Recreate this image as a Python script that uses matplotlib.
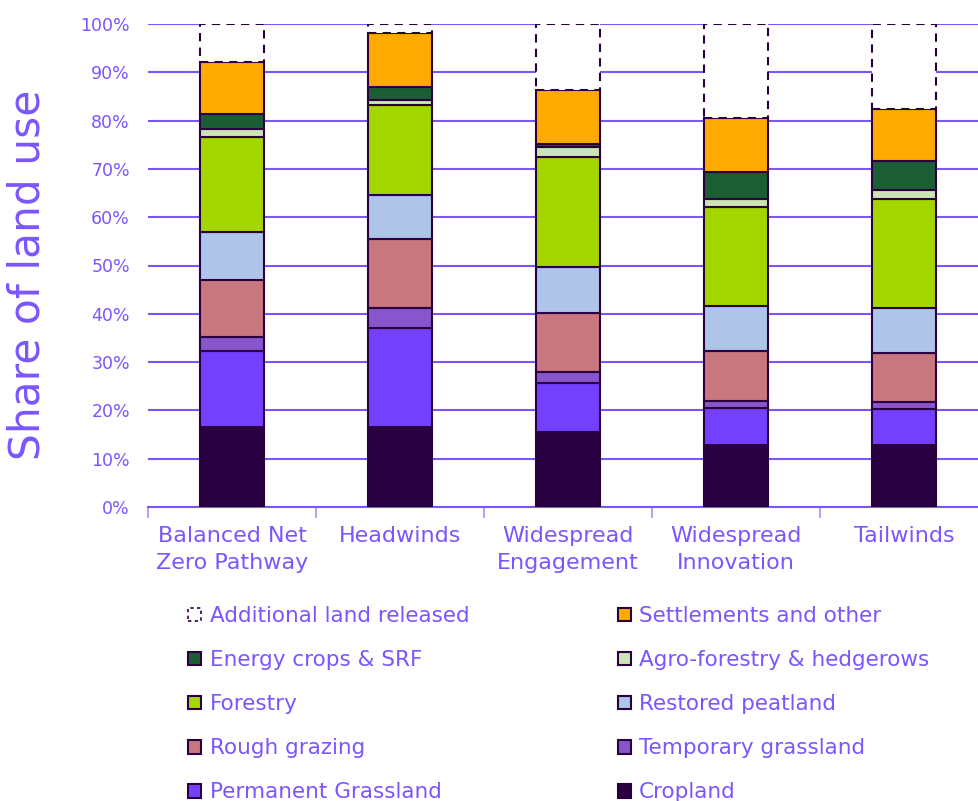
import matplotlib.pyplot as plt
import numpy as np
from matplotlib.patches import Patch

# scenarios
scenarios = ['Balanced Net\nZero Pathway', 'Headwinds', 'Widespread\nEngagement',
             'Widespread\nInnovation', 'Tailwinds']

# land use shares (%), bottom to top
cropland = [16.6, 16.6, 15.6, 12.8, 12.8]
perm_grass = [15.6, 20.5, 10.1, 7.6, 7.5]
temp_grass = [3.1, 4.2, 2.3, 1.6, 1.5]
rough_grazing = [11.8, 14.1, 12.2, 10.2, 10.0]
peatland = [9.9, 9.2, 9.5, 9.5, 9.5]
forestry = [19.7, 18.6, 22.8, 20.5, 22.5]
agro = [1.5, 1.1, 2.0, 1.6, 1.8]
energy = [3.1, 2.7, 0.7, 5.6, 6.1]
settlements = [10.8, 11.2, 11.1, 11.1, 10.7]
additional = [7.9, 1.8, 13.7, 19.5, 17.6]

series = [
    ('Cropland', cropland, '#2a0040'),
    ('Permanent Grassland', perm_grass, '#7340ff'),
    ('Temporary grassland', temp_grass, '#8855cc'),
    ('Rough grazing', rough_grazing, '#c9777f'),
    ('Restored peatland', peatland, '#aec5e8'),
    ('Forestry', forestry, '#a4d600'),
    ('Agro-forestry & hedgerows', agro, '#cce5b5'),
    ('Energy crops & SRF', energy, '#1c5e34'),
    ('Settlements and other', settlements, '#ffaa00'),
]

purple = '#7b55ff'
edge = '#2a0040'
plt.rcParams['font.family'] = ['DejaVu Sans']

fig = plt.figure(figsize=(9.79, 8.01), dpi=100)
ax = fig.add_axes([148 / 979, 1 - 507 / 801, 840 / 979, 483 / 801])

x = np.arange(len(scenarios))
w = 0.38
bottom = np.zeros(len(scenarios))
handles = {}
for name, vals, col in series:
    ax.bar(x, vals, w, bottom=bottom, color=col, edgecolor=edge, linewidth=1.5, zorder=3)
    handles[name] = Patch(facecolor=col, edgecolor=edge, linewidth=1.5)
    bottom += np.array(vals)
ax.bar(x, additional, w, bottom=bottom, color='white', edgecolor=edge,
       linewidth=1.5, linestyle=(0, (4, 3)), zorder=3)
handles['Additional land released'] = Patch(facecolor='white', edgecolor=edge,
                                            linewidth=1.2, linestyle=(0, (2, 2)))

ax.set_xlim(-0.5, len(scenarios) - 0.5)
ax.set_ylim(0, 100)
ax.set_yticks(np.arange(0, 101, 10))
ax.set_yticklabels([f'{v}%' for v in range(0, 101, 10)])
ax.yaxis.grid(True, color=purple, linewidth=1.5, zorder=0)
ax.set_xticks(x)
ax.set_xticklabels(scenarios, linespacing=1.4)
ax.set_xticks(np.arange(-0.5, len(scenarios)), minor=True)
ax.tick_params(axis='x', which='major', length=0, pad=14, labelsize=16, labelcolor=purple)
ax.tick_params(axis='x', which='minor', length=8, width=1.2, color='#a88cff')
ax.tick_params(axis='y', length=0, pad=13, labelsize=12.5, labelcolor=purple)
for s in ['left', 'right', 'top']:
    ax.spines[s].set_visible(False)
ax.spines['bottom'].set_color(purple)
ax.spines['bottom'].set_linewidth(1.5)
ax.set_ylabel('Share of land use', fontsize=30.5, color=purple)
ax.yaxis.set_label_coords(-0.118, 0.48)

order = ['Additional land released', 'Energy crops & SRF', 'Forestry', 'Rough grazing',
         'Permanent Grassland', 'Settlements and other', 'Agro-forestry & hedgerows',
         'Restored peatland', 'Temporary grassland', 'Cropland']
leg = fig.legend([handles[n] for n in order], order, ncol=2, loc='upper left',
                 bbox_to_anchor=(188 / 979, 1 - 606 / 801), frameon=False,
                 fontsize=15.5, handlelength=0.6, handleheight=0.6, handletextpad=0.4,
                 columnspacing=6.9, labelspacing=1.12, borderaxespad=0, borderpad=0)
for t in leg.get_texts():
    t.set_color(purple)

fig.savefig('out.png', dpi=100)
